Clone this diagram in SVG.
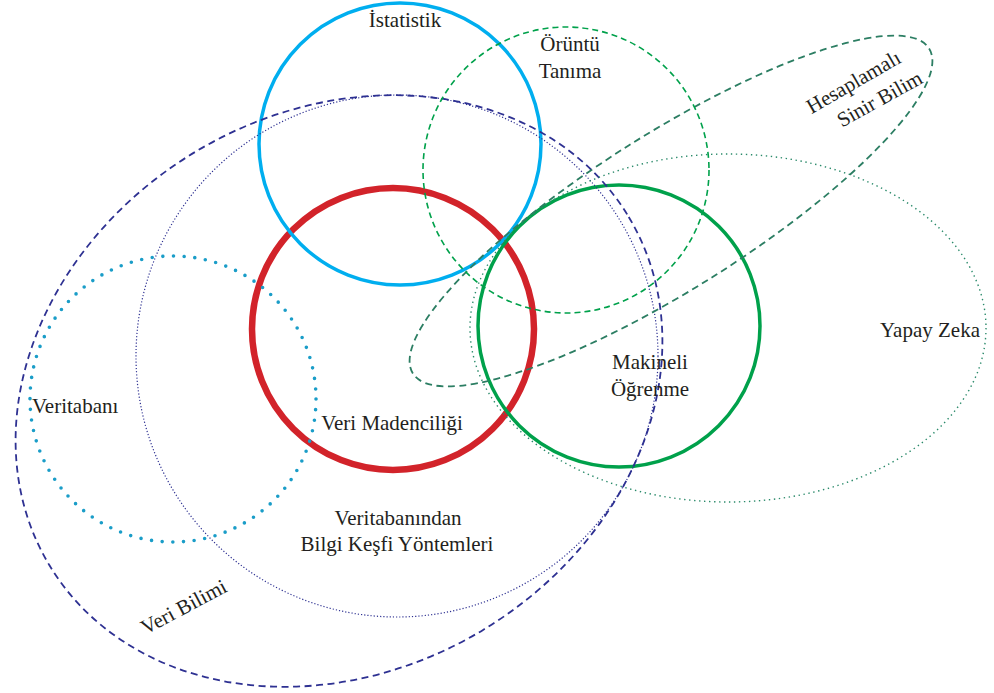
<svg xmlns="http://www.w3.org/2000/svg" width="994" height="693" viewBox="0 0 994 693">
<style>
.t{font-family:"Liberation Serif","Times New Roman",serif;font-size:21px;fill:#231F20}
.m{text-anchor:middle}
.s{fill:none}
</style>
<rect width="994" height="693" fill="#fff"/>
<g id="veri-madenciligi"><circle class="s" cx="393" cy="329" r="141" stroke="#D2232A" stroke-width="6.5"/></g>
<g id="istatistik"><circle class="s" cx="400" cy="144" r="141" stroke="#00AEEF" stroke-width="3.5"/></g>
<g id="makineli-ogrenme"><circle class="s" cx="619" cy="326" r="141" stroke="#00A14B" stroke-width="3.5"/></g>
<g id="veri-bilimi"><ellipse class="s" cx="339" cy="391" rx="338" ry="279" transform="rotate(-31 339 391)" stroke="#2E3192" stroke-width="1.8" stroke-dasharray="7 4.5"/></g>
<g id="bilgi-kesfi"><circle class="s" cx="397" cy="356" r="261" stroke="#2E3192" stroke-width="1.2" stroke-dasharray="1.2 2"/></g>
<g id="yapay-zeka"><ellipse class="s" cx="728" cy="328" rx="258" ry="174" stroke="#2A8A6A" stroke-width="1.4" stroke-dasharray="1.4 3.6"/></g>
<g id="hesaplamali"><ellipse class="s" cx="671" cy="211" rx="305" ry="78" transform="rotate(-32.2 671 211)" stroke="#2C7E63" stroke-width="1.8" stroke-dasharray="7 4.5"/></g>
<g id="oruntu"><circle class="s" cx="566" cy="170" r="143" stroke="#00A14B" stroke-width="1.6" stroke-dasharray="6 4"/></g>
<g id="veritabani"><circle class="s" cx="173" cy="399" r="143" stroke="#1A9DC8" stroke-width="3.6" stroke-linecap="round" stroke-dasharray="0 10.7"/></g>
<g id="labels">
<text class="t m" x="405" y="27">İstatistik</text>
<text class="t m" x="570" y="51">Örüntü</text>
<text class="t m" x="570" y="78">Tanıma</text>
<text class="t m" transform="translate(857 88) rotate(-30)">Hesaplamalı</text>
<text class="t m" transform="translate(883 105) rotate(-29)">Sinir Bilim</text>
<text class="t m" x="930" y="337">Yapay Zeka</text>
<text class="t m" x="650" y="369">Makineli</text>
<text class="t m" x="650" y="396">Öğrenme</text>
<text class="t" x="32" y="413">Veritabanı</text>
<text class="t m" x="392" y="430">Veri Madenciliği</text>
<text class="t m" x="398" y="525">Veritabanından</text>
<text class="t m" x="397" y="551">Bilgi Keşfi Yöntemleri</text>
<text class="t m" transform="translate(187 613) rotate(-28)">Veri Bilimi</text>
</g>
</svg>
